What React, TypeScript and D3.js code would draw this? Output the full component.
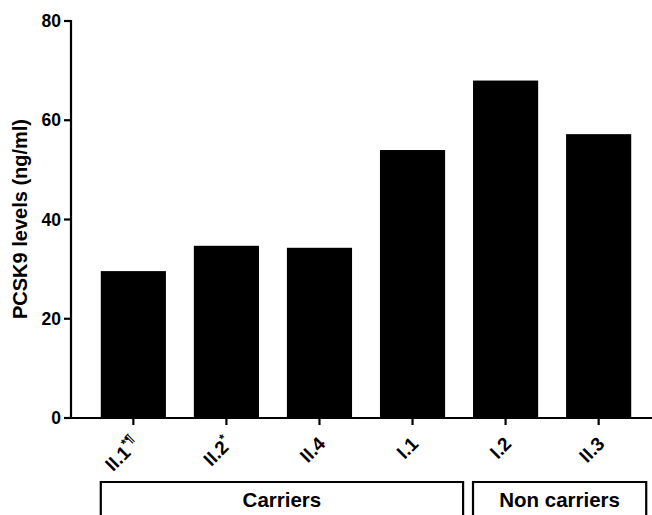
import React from "react";
import * as d3 from "d3";

const categories = ["II.1", "II.2", "II.4", "I.1", "I.2", "II.3"];
const superscripts = ["*¶", "*", "", "", "", ""];
const values = [29.6, 34.7, 34.3, 54.0, 68.0, 57.2];
const yTicks = [0, 20, 40, 60, 80];
const groups = [
  { label: "Carriers", from: 0, to: 3 },
  { label: "Non carriers", from: 4, to: 5 },
];
const yLabel = "PCSK9 levels (ng/ml)";

const W = 652;
const H = 515;
const FONT = "'Liberation Sans', Arial, Helvetica, sans-serif";

export default function App() {
  const x = d3
    .scaleBand<string>()
    .domain(categories)
    .range([71, 661])
    .paddingInner(0.3)
    .paddingOuter(0.32);
  const y = d3.scaleLinear().domain([0, 80]).range([418, 21]);
  const x0 = 71;
  const y0 = y(0);

  return (
    <svg
      width={W}
      height={H}
      style={{ position: "absolute", left: 0, top: 0, background: "#fff" }}
      fontFamily={FONT}
    >
      <rect x={0} y={0} width={W} height={H} fill="#fff" />
      {categories.map((c, i) => (
        <rect
          key={c}
          x={x(c)!}
          y={y(values[i])}
          width={x.bandwidth()}
          height={y0 - y(values[i])}
          fill="#000"
        />
      ))}
      {/* y axis */}
      <line x1={x0} x2={x0} y1={y(80) - 1} y2={y0 + 1} stroke="#000" strokeWidth={2.2} />
      {yTicks.map((t) => (
        <g key={t}>
          <line x1={x0 - 7} x2={x0} y1={y(t)} y2={y(t)} stroke="#000" strokeWidth={2.2} />
          <text
            x={x0 - 10}
            y={y(t)}
            dy="0.35em"
            textAnchor="end"
            fontSize={17.5}
            fontWeight="bold"
          >
            {t}
          </text>
        </g>
      ))}
      {/* x axis */}
      <line x1={x0 - 1} x2={W} y1={y0} y2={y0} stroke="#000" strokeWidth={2.2} />
      {categories.map((c, i) => {
        const cx = x(c)! + x.bandwidth() / 2;
        return (
          <g key={c}>
            <line x1={cx} x2={cx} y1={y0} y2={y0 + 7} stroke="#000" strokeWidth={2.2} />
            <text
              transform={`translate(${cx + 7},${y0 + 27}) rotate(-45)`}
              textAnchor="end"
              fontSize={19}
              fontWeight="bold"
            >
              {c}
              {superscripts[i] ? (
                <tspan fontSize={13} dy={-8}>
                  {superscripts[i]}
                </tspan>
              ) : null}
            </text>
          </g>
        );
      })}
      {/* y label */}
      <text
        transform={`translate(27,219) rotate(-90)`}
        textAnchor="middle"
        fontSize={20}
        fontWeight="bold"
      >
        {yLabel}
      </text>
      {/* group boxes */}
      {groups.map((g) => {
        const left = x(categories[g.from])!;
        const right = x(categories[g.to])! + x.bandwidth() + (g.to === categories.length - 1 ? 15 : 18);
        return (
          <g key={g.label}>
            <path
              d={`M${left},${H + 5}V482H${right}V${H + 5}`}
              fill="none"
              stroke="#000"
              strokeWidth={2.2}
            />
            <text
              x={(left + right) / 2}
              y={506.5}
              textAnchor="middle"
              fontSize={20.5}
              fontWeight="bold"
            >
              {g.label}
            </text>
          </g>
        );
      })}
    </svg>
  );
}
